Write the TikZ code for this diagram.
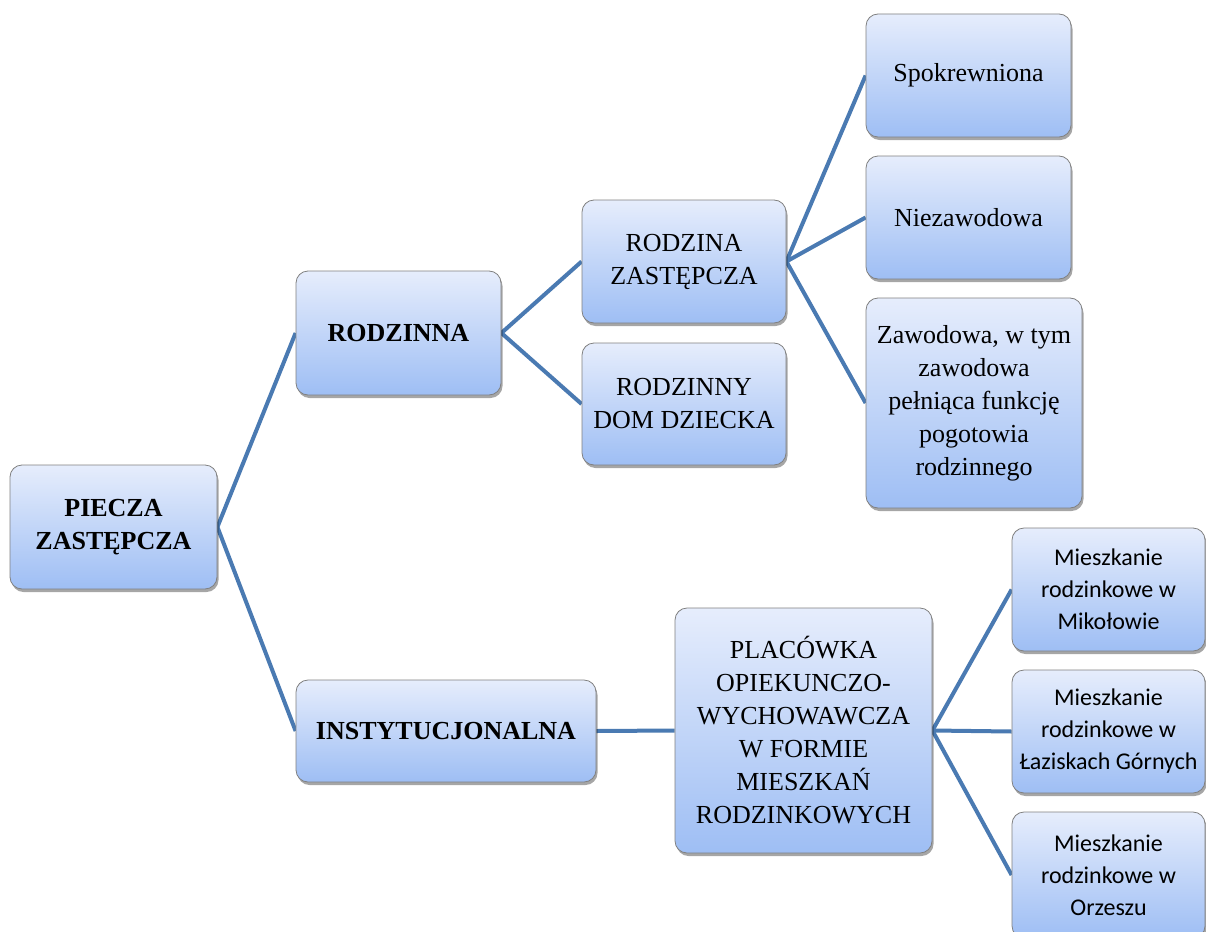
\documentclass[tikz,border=0pt]{standalone}
\usepackage{fontspec}
\setmainfont{Liberation Serif}
\newfontfamily\calib{Carlito}
\usetikzlibrary{shadows}
\pgfdeclarelayer{bg}
\pgfsetlayers{bg,main}
\definecolor{linecol}{RGB}{74,122,178}
\definecolor{topcol}{RGB}{230,237,252}
\definecolor{botcol}{RGB}{158,190,244}
\definecolor{bordercol}{RGB}{128,128,128}
\tikzset{
  box/.style={draw=bordercol, line width=0.8pt, rounded corners=12pt,
    top color=topcol, bottom color=botcol, align=center, inner sep=2pt,
    drop shadow={shadow xshift=1.5pt, shadow yshift=-3pt, opacity=0.35, fill=black},
    font=\fontsize{26}{33}\selectfont},
  bbox/.style={box, font=\fontsize{26}{33}\selectfont\bfseries},
  cbox/.style={box, font=\fontsize{24}{32}\selectfont\calib},
  conn/.style={draw=linecol, line width=4pt}
}
\begin{document}
\begin{tikzpicture}[x=1pt,y=-1pt]
\useasboundingbox (0,0) rectangle (1206,931);
% level 0
\node[bbox, minimum width=207pt, minimum height=124pt] (pz) at (113.5,527) {PIECZA\\ZASTĘPCZA};
% level 1
\node[bbox, minimum width=205pt, minimum height=124pt] (rodz) at (398.5,333) {RODZINNA};
\node[bbox, minimum width=300pt, minimum height=102pt] (inst) at (446,731) {INSTYTUCJONALNA};
% level 2
\node[box, minimum width=204pt, minimum height=123pt] (rz) at (684,261.5) {RODZINA\\ZASTĘPCZA};
\node[box, minimum width=204pt, minimum height=122pt] (rdd) at (684,404) {RODZINNY\\DOM DZIECKA};
\node[box, minimum width=257pt, minimum height=245pt] (plac) at (803.5,730.5) {PLACÓWKA\\OPIEKUNCZO-\\WYCHOWAWCZA\\W FORMIE\\MIESZKAŃ\\RODZINKOWYCH};
% level 3
\node[box, minimum width=205pt, minimum height=123pt] (spok) at (968.5,75.5) {Spokrewniona};
\node[box, minimum width=205pt, minimum height=123pt] (niez) at (968.5,217.5) {Niezawodowa};
\node[box, minimum width=216pt, minimum height=210pt] (zaw) at (974,403) {Zawodowa, w tym\\zawodowa\\pełniąca funkcję\\pogotowia\\rodzinnego};
\node[cbox, minimum width=193pt, minimum height=123pt] (m1) at (1108.5,589.5) {Mieszkanie\\rodzinkowe w\\Mikołowie};
\node[cbox, minimum width=193pt, minimum height=123pt] (m2) at (1108.5,731.5) {Mieszkanie\\rodzinkowe w\\Łaziskach Górnych};
\node[cbox, minimum width=193pt, minimum height=126pt] (m3) at (1108.5,875) {Mieszkanie\\rodzinkowe w\\Orzeszu};
% connectors
\begin{pgfonlayer}{bg}
\fill[white] (0,0) rectangle (1206,931);
\draw[conn] (pz.east) -- (rodz.west);
\draw[conn] (pz.east) -- (inst.west);
\draw[conn] (rodz.east) -- (rz.west);
\draw[conn] (rodz.east) -- (rdd.west);
\draw[conn] (rz.east) -- (spok.west);
\draw[conn] (rz.east) -- (niez.west);
\draw[conn] (rz.east) -- (zaw.west);
\draw[conn] (inst.east) -- (plac.west);
\draw[conn] (plac.east) -- (m1.west);
\draw[conn] (plac.east) -- (m2.west);
\draw[conn] (plac.east) -- (m3.west);
\end{pgfonlayer}
\end{tikzpicture}
\end{document}
